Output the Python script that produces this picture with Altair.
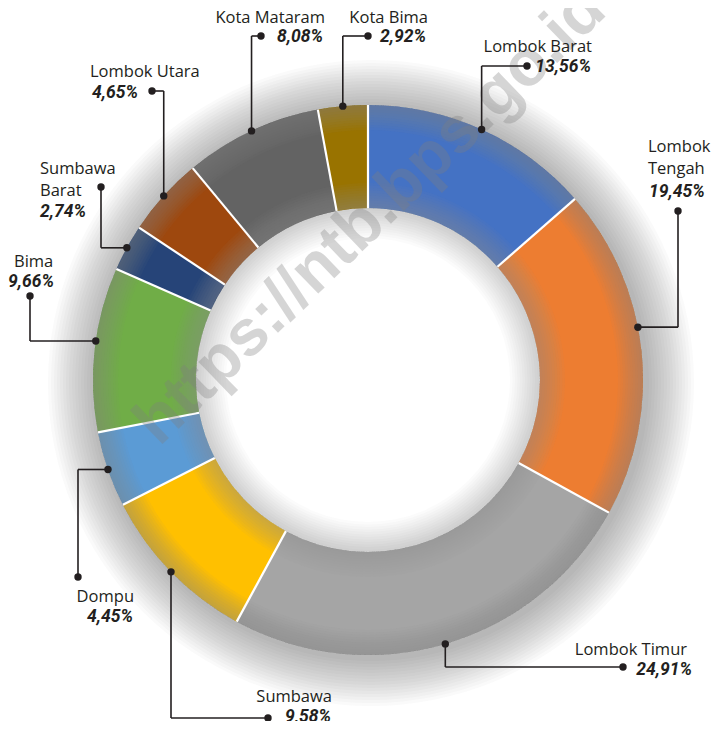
import math
import altair as alt
import pandas as pd

# ---------------- data ----------------
names = ["Lombok Barat", "Lombok Tengah", "Lombok Timur", "Sumbawa", "Dompu",
         "Bima", "Sumbawa Barat", "Lombok Utara", "Kota Mataram", "Kota Bima"]
shares = [13.56, 19.45, 24.91, 9.58, 4.45, 9.66, 2.74, 4.65, 8.08, 2.92]
name_lines = [["Lombok Barat"], ["Lombok", "Tengah"], ["Lombok Timur"], ["Sumbawa"],
              ["Dompu"], ["Bima"], ["Sumbawa", "Barat"], ["Lombok Utara"],
              ["Kota Mataram"], ["Kota Bima"]]
colors = ["#4472C4", "#ED7D31", "#A5A5A5", "#FFC000", "#5B9BD5",
          "#70AD47", "#264478", "#9E480E", "#636363", "#997300"]
watermark = "https://ntb.bps.go.id"

# ---------------- layout (page pixel coordinates) ----------------
W, H = 703, 713
CX, CY = 368, 380
R_OUT, R_IN = 275, 172
dot_frac = [0.5, 0.43, 0.5, 0.5, 0.5, 0.55, 0.5, 0.5, 0.5, 0.5]
elbow = ["v", "h", "v", "v", "h", "h", "h", "v", "v", "v"]
leader_end = [(527, 66), (678, 211), (623, 667), (268, 718), (78, 577),
              (30, 296), (101, 187), (152, 91), (261, 36), (368, 36)]
text_align = ["right", "left", "right", "right", "right",
              "left", "left", "left", "right", "right"]
name_x = [592, 648, 687, 332, 134, 14, 40, 90, 325, 428]
value_x = [591, 649, 692, 331, 133, 8, 40, 92, 323, 426]
name_y = [47, 147, 650, 697, 597, 262, 169, 72, 18, 18]
value_y = [67, 192, 670, 717, 617, 282, 212, 93, 37, 37]
LINE = 22
INK = "#231f20"
NAME_FONT = "Open Sans"
VALUE_FONT = "Roboto"

xs = alt.Scale(domain=[8, 8 + W], nice=False, zero=False)
ys = alt.Scale(domain=[8, 8 + H], nice=False, zero=False, reverse=True)
TOTAL = sum(shares)
TWO_PI = 2 * math.pi

# ---------------- derived tables ----------------
starts, acc = [], 0.0
for v in shares:
    starts.append(acc)
    acc += v
slices = pd.DataFrame({"name": names, "start": starts,
                       "end": [s + v for s, v in zip(starts, shares)]})


def polar(value, r):
    a = value / TOTAL * TWO_PI
    return CX + r * math.sin(a), CY - r * math.cos(a)


seps = []
for s in starts:
    x1, y1 = polar(s, R_IN)
    x2, y2 = polar(s, R_OUT)
    seps.append({"x": x1, "y": y1, "x2": x2, "y2": y2})
seps = pd.DataFrame(seps)

segs, dots = [], []
for i, name in enumerate(names):
    dx, dy = polar(starts[i] + dot_frac[i] * shares[i], R_OUT)
    ex, ey = leader_end[i]
    cx, cy = (dx, ey) if elbow[i] == "v" else (ex, dy)
    segs.append({"x": dx, "y": dy, "x2": cx, "y2": cy})
    segs.append({"x": cx, "y": cy, "x2": ex, "y2": ey})
    dots.append({"x": dx, "y": dy})
    dots.append({"x": ex, "y": ey})
segs = pd.DataFrame(segs)
dots = pd.DataFrame(dots)

name_rows, value_rows = [], []
for i, name in enumerate(names):
    for j, line in enumerate(name_lines[i]):
        name_rows.append({"t": line, "x": name_x[i], "y": name_y[i] + j * LINE,
                          "al": text_align[i]})
    value_rows.append({"t": f"{shares[i]:.2f}".replace(".", ",") + "%",
                       "x": value_x[i], "y": value_y[i], "al": text_align[i]})
name_rows = pd.DataFrame(name_rows)
value_rows = pd.DataFrame(value_rows)


def rings(specs):
    return pd.DataFrame([{"r0": a, "r1": b, "op": o} for a, b, o in specs])


def ring_layer(df, color, ox=0, oy=0):
    return alt.Chart(df).mark_arc(stroke=None).encode(
        x=alt.value(CX - 8 + ox), y=alt.value(CY - 8 + oy),
        theta=alt.value(0), theta2=alt.value(TWO_PI),
        radius=alt.Radius("r1:Q", scale=None), radius2="r0:Q",
        opacity=alt.Opacity("op:Q", scale=None),
        color=alt.value(color),
    )


outer_shadow = rings([(240, R_OUT + 3 * (k + 1), 0.026) for k in range(16)])
hole_shadow = rings([(R_IN - 2.5 * (k + 1), R_IN + 30, 0.024) for k in range(12)])
edge_out = rings([(R_OUT - 2.5 * (k + 1), R_OUT, 0.06) for k in range(10)])
edge_in = rings([(R_IN, R_IN + 2.5 * (k + 1), 0.055) for k in range(10)])

base_arcs = alt.Chart(slices).mark_arc(innerRadius=R_IN, outerRadius=R_OUT, stroke=None).encode(
    x=alt.value(CX - 8), y=alt.value(CY - 8),
    theta=alt.Theta("start:Q", scale=alt.Scale(domain=[0, TOTAL], range=[0, TWO_PI])),
    theta2="end:Q",
    color=alt.Color("name:N", scale=alt.Scale(domain=names, range=colors), legend=None),
)

sep_layer = alt.Chart(seps).mark_rule(color="white", strokeWidth=2.2).encode(
    x=alt.X("x:Q", scale=xs, axis=None), y=alt.Y("y:Q", scale=ys, axis=None),
    x2="x2:Q", y2="y2:Q",
)

wm = alt.Chart(pd.DataFrame({"t": [watermark], "x": [370], "y": [216]})).mark_text(
    font="Liberation Sans", fontWeight="bold", fontSize=65, angle=316,
    color="#7f7f7f", opacity=0.32, align="center", baseline="middle",
).encode(x=alt.X("x:Q", scale=xs, axis=None), y=alt.Y("y:Q", scale=ys, axis=None), text="t:N")

lead = alt.Chart(segs).mark_rule(color=INK, strokeWidth=1.6).encode(
    x=alt.X("x:Q", scale=xs, axis=None), y=alt.Y("y:Q", scale=ys, axis=None),
    x2="x2:Q", y2="y2:Q",
)
dot_layer = alt.Chart(dots).mark_circle(color=INK, opacity=1, size=55).encode(
    x=alt.X("x:Q", scale=xs, axis=None), y=alt.Y("y:Q", scale=ys, axis=None),
)


def text_layers(df, **style):
    out = []
    for al in ["left", "right"]:
        out.append(alt.Chart(df).transform_filter(alt.datum.al == al).mark_text(
            align=al, baseline="middle", color=INK, **style
        ).encode(x=alt.X("x:Q", scale=xs, axis=None),
                 y=alt.Y("y:Q", scale=ys, axis=None), text="t:N"))
    return out


name_text = text_layers(name_rows, font=NAME_FONT, fontSize=16.5)
value_text = text_layers(value_rows, font=VALUE_FONT, fontSize=17.5,
                         fontWeight="bold", fontStyle="italic")

chart = alt.layer(
    ring_layer(outer_shadow, "#555555", 3, 3),
    ring_layer(hole_shadow, "#555555"),
    base_arcs,
    ring_layer(edge_out, "#8c8c8c"),
    ring_layer(edge_in, "#8c8c8c"),
    sep_layer,
    wm,
    lead,
    dot_layer,
    *name_text,
    *value_text,
).properties(
    width=W, height=H, padding=0,
    autosize=alt.AutoSizeParams(type="none"),
    background="white",
).configure_view(stroke=None)

chart.save("out.html", embed_options={"renderer": "svg", "actions": False})
